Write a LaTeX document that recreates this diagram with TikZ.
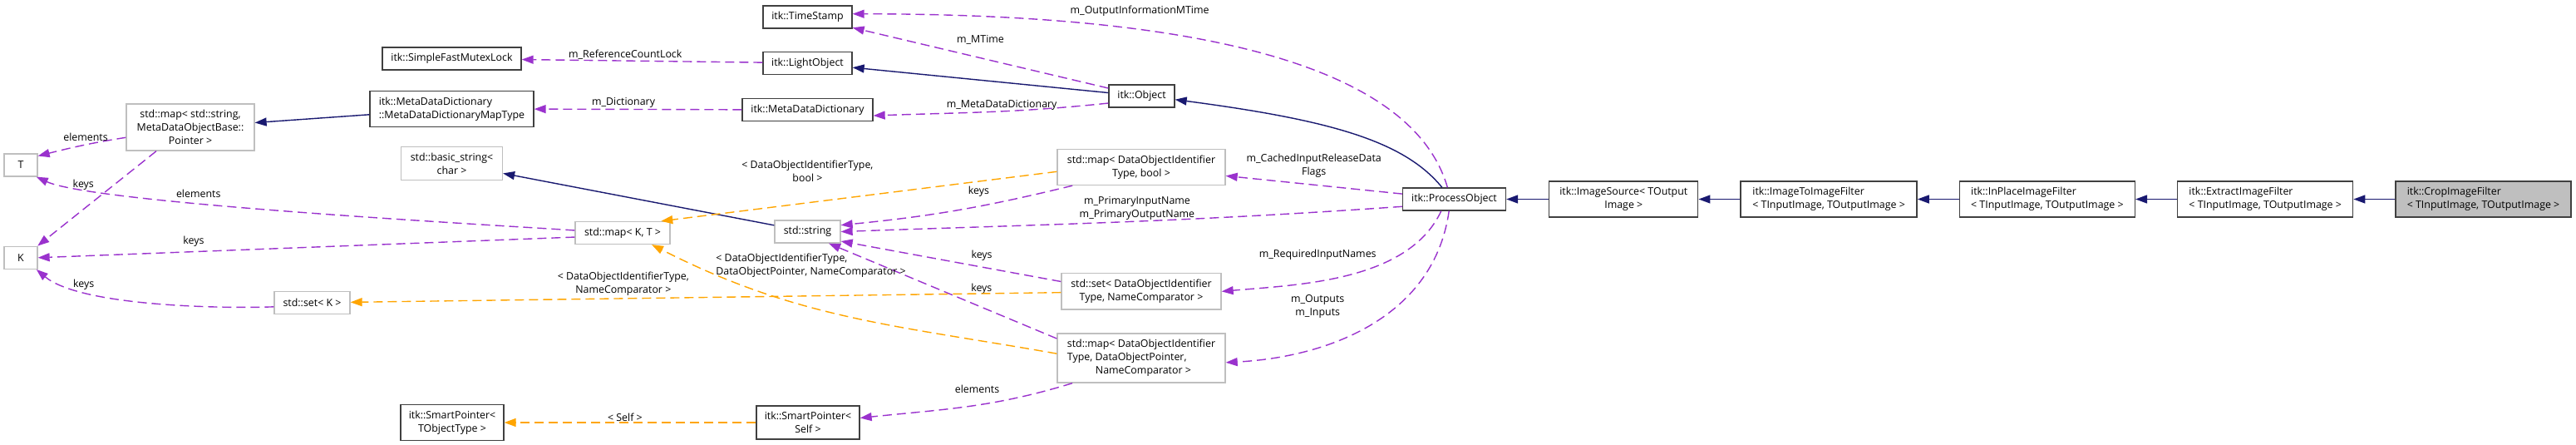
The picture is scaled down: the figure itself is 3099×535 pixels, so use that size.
\documentclass[tikz,border=0pt]{standalone}
\usepackage{fontspec}
\usepackage{xcolor}
\usepackage{tikz}
\usetikzlibrary{arrows.meta, positioning}

\newfontfamily\doxsans{Open Sans}
\definecolor{inhblue}{HTML}{191970}
\definecolor{usepurple}{HTML}{9A32CD}
\definecolor{tmplorange}{HTML}{FFA500}
\definecolor{undocgray}{HTML}{BFBFBF}

\begin{document}
\begin{tikzpicture}[
  x=1pt, y=1pt,
  cls/.style={rectangle, draw=black!75, fill=white, line width=1.3pt,
              font=\doxsans\fontsize{12.4pt}{16pt}\selectfont,
              inner xsep=6pt, inner ysep=7.3pt, minimum height=27pt},
  undoc/.style={cls, draw=undocgray},
  focus/.style={cls, fill=undocgray},
  lbl/.style={font=\doxsans\fontsize{12.4pt}{16pt}\selectfont,
              inner sep=1pt, align=center},
  inh/.style={-{Triangle[length=14pt, width=10pt]}, draw=inhblue, line width=1.4pt},
  usage/.style={-{Triangle[length=14pt, width=10pt]}, draw=usepurple, line width=1.4pt,
                dash pattern=on 11pt off 6pt},
  tmpl/.style={-{Triangle[length=14pt, width=10pt]}, draw=tmplorange, line width=1.4pt,
               dash pattern=on 11pt off 6pt}
]
\useasboundingbox (0,0) rectangle (3099,-535);

% class chain
\node[focus, align=left, minimum width=211pt] (CR) at (2987.5,-239.5) {itk::CropImageFilter\\< TInputImage, TOutputImage >};
\node[cls, align=left, minimum width=211pt, left=50pt of CR] (EX) {itk::ExtractImageFilter\\< TInputImage, TOutputImage >};
\node[cls, align=left, minimum width=211pt, left=50pt of EX] (IP) {itk::InPlaceImageFilter\\< TInputImage, TOutputImage >};
\node[cls, align=left, minimum width=212pt, left=50pt of IP] (I2I) {itk::ImageToImageFilter\\< TInputImage, TOutputImage >};
\node[cls, align=center, minimum width=179pt, left=50pt of I2I] (IS) {itk::ImageSource< TOutput\\Image >};
\node[cls, minimum width=124pt, left=51pt of IS] (PO) {itk::ProcessObject};

% members of ProcessObject
\node[cls, minimum width=79pt] (Obj) at (1373.5,-115.5) {itk::Object};
\node[undoc, align=center, minimum width=202pt] (mapDB) at (1373,-201) {std::map< DataObjectIdentifier\\Type, bool >};
\node[undoc, align=center, minimum width=192pt, below=105pt of mapDB] (setDN) {std::set< DataObjectIdentifier\\Type, NameComparator >};
\node[undoc, align=left, minimum width=202pt] (mapDDN) at (1373,-430.5) {std::map< DataObjectIdentifier\\Type, DataObjectPointer,\\\hspace*{34pt}NameComparator >};

\node[cls, minimum width=107pt] (TS) at (971.5,-20.5) {itk::TimeStamp};
\node[cls, minimum width=107pt, below=27pt of TS] (LO) {itk::LightObject};
\node[cls, minimum width=157pt, below=28pt of LO] (MDD) {itk::MetaDataDictionary};
\node[undoc, minimum width=79pt] (str) at (971.5,-278.5) {std::string};
\node[cls, align=center, minimum width=124pt] (SPS) at (972,-508) {itk::SmartPointer<\\Self >};

\node[cls, minimum width=167pt] (SFML) at (543.5,-70.5) {itk::SimpleFastMutexLock};
\node[cls, align=left, minimum width=197pt, below=24pt of SFML] (MDDMT) {itk::MetaDataDictionary\\::MetaDataDictionaryMapType};
\node[undoc, align=center, minimum width=122pt, below=23pt of MDDMT] (bstr) {std::basic\_string<\\char >};
\node[cls, align=center, minimum width=124pt] (SPT) at (544,-508) {itk::SmartPointer<\\TObjectType >};
\node[undoc, minimum width=114pt] (mapKT) at (749,-280) {std::map< K, T >};

\node[undoc, align=center, minimum width=154pt] (mapSP) at (229,-153) {std::map< std::string,\\MetaDataObjectBase::\\Pointer >};
\node[undoc, minimum width=91pt] (setK) at (375.5,-364) {std::set< K >};
\node[undoc, minimum width=40pt] (T) at (25,-198.5) {T};
\node[undoc, minimum width=40pt, below=83pt of T] (K) {K};

% inheritance
\draw[inh] (CR) -- (EX);
\draw[inh] (EX) -- (IP);
\draw[inh] (IP) -- (I2I);
\draw[inh] (I2I) -- (IS);
\draw[inh] (IS) -- (PO);
\draw[inh] (PO.136) .. controls +(-45,55) and +(190,-25) .. (Obj.-6);
\draw[inh] (Obj) -- (LO);
\draw[inh] (MDDMT) -- (mapSP);
\draw[inh] (str) -- (bstr);

% usage
\draw[usage] (LO) -- node[lbl, pos=0.57, above]{m\_ReferenceCountLock} (SFML);
\draw[usage] (MDD) -- node[lbl, pos=0.57, above]{m\_Dictionary} (MDDMT);
\draw[usage] (Obj) -- node[lbl, pos=0.5, above=15pt]{m\_MTime} (TS);
\draw[usage] (Obj.192) to[out=186, in=2] node[lbl, pos=0.45, above]{m\_MetaDataDictionary} (MDD.-5);
\draw[usage] (PO.120) .. controls +(-48,166) and +(350,0) .. node[lbl, pos=0.65, above=15pt]{m\_OutputInformationMTime} (TS.4);
\draw[usage] (PO) -- node[lbl, pos=0.5, above=7pt]{m\_CachedInputReleaseData\\Flags} (mapDB);
\draw[usage] (PO.188) to[out=184, in=2] node[lbl, pos=0.47, above]{m\_PrimaryInputName\\m\_PrimaryOutputName} (str.east);
\draw[usage] (PO.222) to[out=245, in=5, looseness=0.85] node[lbl, pos=0.62, above=24pt]{m\_RequiredInputNames} (setDN.east);
\draw[usage] (PO.246) to[out=262, in=3] node[lbl, pos=0.7, above=33pt]{m\_Outputs\\m\_Inputs} (mapDDN.-3);
\draw[usage] (mapDB.195) to[bend left=4] node[lbl, pos=0.4, above=10pt]{keys} (str.11);
\draw[usage] (setDN.173) -- node[lbl, pos=0.36, above=6pt]{keys} (str.-16);
\draw[usage] (mapDDN.167) -- node[lbl, pos=0.33, above=14pt]{keys} (str.-29);
\draw[usage] (mapDDN.200) to[out=197, in=6] node[lbl, pos=0.45, above=13pt]{elements} (SPS.5);
\draw[usage] (mapSP.189) to[out=189, in=14] node[lbl, pos=0.45, above=3pt]{elements} (T.28);
\draw[usage] (mapSP.215) -- node[lbl, pos=0.36, left=22pt]{keys} (K.35);
\draw[usage] (mapKT.177) to[out=176, in=-25, looseness=0.3] node[lbl, pos=0.65, above=4pt]{elements} (T.-37);
\draw[usage] (mapKT.185) -- node[lbl, pos=0.71, above=4pt]{keys} (K.east);
\draw[usage] (setK.186) to[out=182, in=-40, looseness=0.6] node[lbl, pos=0.75, above]{keys} (K.-37);

% template instances
\draw[tmpl] (mapDB.183) -- node[lbl, pos=0.63, above=24pt]{< DataObjectIdentifierType,\\bool >} (mapKT.17);
\draw[tmpl] (mapDDN.177) to[out=170, in=-27] node[lbl, align=left, pos=0.6, above=34pt]{< DataObjectIdentifierType,\\DataObjectPointer, NameComparator >} (mapKT.-22);
\draw[tmpl] (setDN) -- node[lbl, pos=0.616, above=2pt]{< DataObjectIdentifierType,\\NameComparator >} (setK);
\draw[tmpl] (SPS) -- node[lbl, pos=0.52, above]{< Self >} (SPT);
\end{tikzpicture}
\end{document}
